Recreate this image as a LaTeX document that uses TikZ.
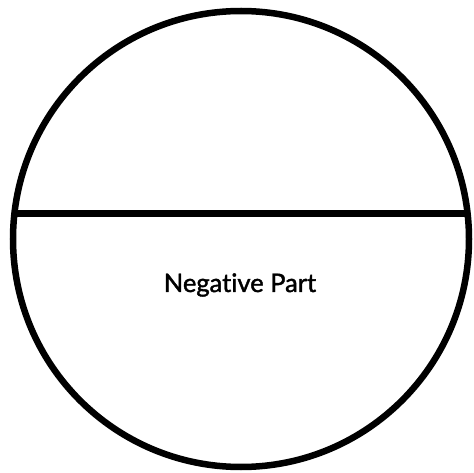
\documentclass[tikz,border=0pt]{standalone}
\usepackage{fontspec}
\setmainfont{Lato}[Ligatures={NoCommon},FakeBold=1.6,BoldFont={Lato}]
\begin{document}
\begin{tikzpicture}[x=1pt,y=-1pt,
  outline/.style={line width=6.5pt,draw=black},
  label/.style={font=\fontsize{25.5}{30}\selectfont\bfseries,text=black,inner sep=0pt}]
\useasboundingbox (0,0) rectangle (474,473);
\coordinate (c) at (241,239);
\draw[outline] (c) circle[radius=228];
\path (13.5,213.5) coordinate (la) (469,213.5) coordinate (lb);
\draw[outline] (la) -- (lb);
\node[label] (neg) at (240,285) {Negative Part};
\end{tikzpicture}
\end{document}
